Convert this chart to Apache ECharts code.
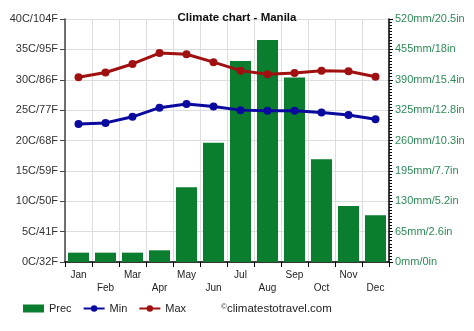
<!DOCTYPE html>
<html>
<head>
<meta charset="utf-8">
<script src="https://cdn.jsdelivr.net/npm/echarts@6/dist/echarts.min.js"></script>
<style>
  html, body { margin: 0; padding: 0; background: #fff; }
  #chart { width: 474px; height: 331px; }
</style>
</head>
<body>
<div id="chart"></div>
<script>
// Monthly climate data for Manila
const months = ['Jan', 'Feb', 'Mar', 'Apr', 'May', 'Jun', 'Jul', 'Aug', 'Sep', 'Oct', 'Nov', 'Dec'];
const precMm = [20, 20, 20, 25, 160, 255, 430, 475, 395, 220, 120, 100];
const minC = [22.7, 22.9, 23.9, 25.4, 26.0, 25.6, 25.0, 24.9, 24.9, 24.6, 24.2, 23.5];
const maxC = [30.4, 31.2, 32.6, 34.4, 34.2, 32.9, 31.5, 30.9, 31.1, 31.5, 31.4, 30.5];
const tempTicks = ['0C/32F', '5C/41F', '10C/50F', '15C/59F', '20C/68F', '25C/77F', '30C/86F', '35C/95F', '40C/104F'];
const precTicks = ['0mm/0in', '65mm/2.6in', '130mm/5.2in', '195mm/7.7in', '260mm/10.3in', '325mm/12.8in', '390mm/15.4in', '455mm/18in', '520mm/20.5in'];

const font = 'Liberation Sans, Arial, sans-serif';
const chart = echarts.init(document.getElementById('chart'), null, { renderer: 'canvas' });

chart.setOption({
  animation: false,
  backgroundColor: '#ffffff',
  textStyle: { fontFamily: font },
  title: {
    text: 'Climate chart - Manila',
    left: 'center',
    top: 7,
    textStyle: { fontSize: 11.5, fontWeight: 'bold', color: '#111', fontFamily: font }
  },
  grid: { left: 65, right: 85, top: 19, bottom: 69, containLabel: false },
  legend: {
    bottom: 12,
    left: 18,
    itemGap: 11,
    itemWidth: 21,
    itemHeight: 8,
    textStyle: { fontSize: 11, color: '#222', fontFamily: font },
    data: [
      { name: 'Prec', icon: 'rect' },
      { name: 'Min' },
      { name: 'Max' }
    ]
  },
  xAxis: {
    type: 'category',
    data: months,
    boundaryGap: true,
    axisLine: { lineStyle: { color: '#000', width: 1.5 } },
    axisTick: { show: true, length: 5, lineStyle: { color: '#000' } },
    splitLine: { show: true, lineStyle: { color: '#dddddd' } },
    axisLabel: {
      interval: 0,
      fontSize: 10,
      color: '#222',
      margin: 6,
      formatter: (v, i) => (i % 2 === 1 ? '\n' + v : v),
      lineHeight: 13.5
    }
  },
  yAxis: [
    {
      type: 'value',
      min: 0,
      max: 40,
      interval: 5,
      axisLine: { show: true, lineStyle: { color: '#444', width: 1.5 } },
      axisTick: { show: true, length: 5, lineStyle: { color: '#444' } },
      splitLine: { show: true, lineStyle: { color: '#dddddd' } },
      axisLabel: {
        fontSize: 11,
        color: '#333',
        margin: 7,
        formatter: (v) => tempTicks[Math.round(v / 5)]
      }
    },
    {
      type: 'value',
      min: 0,
      max: 520,
      interval: 65,
      position: 'right',
      axisLine: { show: true, lineStyle: { color: '#000', width: 1.5 } },
      axisTick: { show: true, length: 4, lineStyle: { color: '#000' } },
      minorTick: { show: true, splitNumber: 10, length: 3, lineStyle: { color: '#000' } },
      splitLine: { show: false },
      axisLabel: {
        fontSize: 11,
        color: '#2e8b57',
        margin: 6,
        formatter: (v) => precTicks[Math.round(v / 65)]
      }
    }
  ],
  series: [
    {
      name: 'Prec',
      type: 'bar',
      yAxisIndex: 1,
      data: precMm,
      barCategoryGap: '22%',
      itemStyle: { color: '#0a7d2e' },
      z: 1
    },
    {
      name: 'Min',
      type: 'line',
      yAxisIndex: 0,
      data: minC,
      symbol: 'circle',
      symbolSize: 8,
      lineStyle: { color: '#0a0a9e', width: 3 },
      itemStyle: { color: '#0a0a9e' },
      z: 3
    },
    {
      name: 'Max',
      type: 'line',
      yAxisIndex: 0,
      data: maxC,
      symbol: 'circle',
      symbolSize: 8,
      lineStyle: { color: '#a01010', width: 3 },
      itemStyle: { color: '#a01010' },
      z: 3
    }
  ],
  graphic: [
    {
      type: 'text',
      left: 221,
      top: 303,
      style: { text: '©', fontSize: 8, fill: '#333', fontFamily: font }
    },
    {
      type: 'text',
      left: 227,
      top: 303,
      style: { text: 'climatestotravel.com', fontSize: 11.5, fill: '#222', fontFamily: font }
    }
  ]
});
</script>
</body>
</html>
